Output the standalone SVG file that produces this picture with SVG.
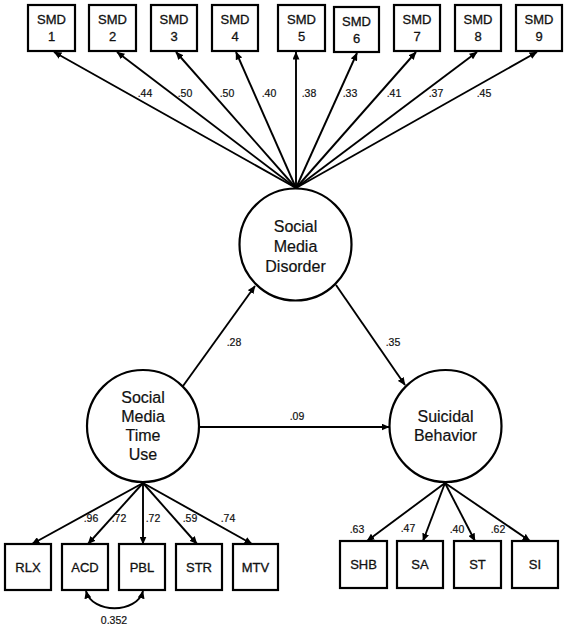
<svg xmlns="http://www.w3.org/2000/svg" width="567" height="628" viewBox="0 0 567 628">
<defs>
<marker id="ah" markerUnits="userSpaceOnUse" markerWidth="8" markerHeight="7" refX="7.5" refY="3.5" orient="auto-start-reverse">
<path d="M0,0 L8,3.5 L0,7 z" fill="#000"/>
</marker>
</defs>
<style>
.box{fill:#fff;stroke:#000;stroke-width:2.2}
.lat{fill:#fff;stroke:#000;stroke-width:2.2}
.t{font-family:"Liberation Sans",Arial,sans-serif;font-size:13px;fill:#111;stroke:#111;stroke-width:0.3;text-anchor:middle}
.lt{font-family:"Liberation Sans",Arial,sans-serif;font-size:16px;fill:#111;stroke:#111;stroke-width:0.2;text-anchor:middle}
.n{font-family:"Liberation Sans",Arial,sans-serif;font-size:10.5px;fill:#111;stroke:#111;stroke-width:0.2;text-anchor:middle}
.c{fill:none;stroke:#000;stroke-width:1.9;marker-end:url(#ah)}
</style>
<rect width="567" height="628" fill="#fff"/>
<g id="connectors">
<line class="c" x1="296" y1="188" x2="54" y2="52"/>
<line class="c" x1="296" y1="188" x2="117" y2="52"/>
<line class="c" x1="296" y1="188" x2="176" y2="52"/>
<line class="c" x1="296" y1="188" x2="236" y2="52"/>
<line class="c" x1="296" y1="188" x2="296" y2="52"/>
<line class="c" x1="296" y1="188" x2="357" y2="53"/>
<line class="c" x1="296" y1="188" x2="416" y2="52"/>
<line class="c" x1="296" y1="188" x2="477" y2="52"/>
<line class="c" x1="296" y1="188" x2="537" y2="52"/>
<line class="c" x1="183" y1="386" x2="255" y2="286"/>
<line class="c" x1="336" y1="285" x2="405" y2="385"/>
<line class="c" x1="199" y1="427" x2="389" y2="427"/>
<line class="c" x1="143" y1="483" x2="32" y2="544"/>
<line class="c" x1="143" y1="483" x2="88" y2="544"/>
<line class="c" x1="143" y1="483" x2="143" y2="544"/>
<line class="c" x1="143" y1="483" x2="197" y2="544"/>
<line class="c" x1="143" y1="483" x2="252" y2="544"/>
<line class="c" x1="445" y1="483" x2="367" y2="541"/>
<line class="c" x1="445" y1="483" x2="423" y2="541"/>
<line class="c" x1="445" y1="483" x2="475" y2="541"/>
<line class="c" x1="445" y1="483" x2="530" y2="541"/>
<path d="M86,591 C92,614 137,614 143,591" fill="none" stroke="#000" stroke-width="1.9" marker-start="url(#ah)" marker-end="url(#ah)"/>
<text class="n" x="145" y="97">.44</text>
<text class="n" x="185" y="97">.50</text>
<text class="n" x="227" y="97">.50</text>
<text class="n" x="269" y="97">.40</text>
<text class="n" x="309" y="97">.38</text>
<text class="n" x="350" y="97">.33</text>
<text class="n" x="394" y="97">.41</text>
<text class="n" x="436" y="97">.37</text>
<text class="n" x="484" y="97">.45</text>
<text class="n" x="234" y="346">.28</text>
<text class="n" x="393" y="346">.35</text>
<text class="n" x="297" y="420">.09</text>
<text class="n" x="91" y="522">.96</text>
<text class="n" x="119" y="522">.72</text>
<text class="n" x="153" y="522">.72</text>
<text class="n" x="190" y="522">.59</text>
<text class="n" x="228" y="522">.74</text>
<text class="n" x="114" y="624">0.352</text>
<text class="n" x="357" y="533">.63</text>
<text class="n" x="408" y="532">.47</text>
<text class="n" x="457" y="533">.40</text>
<text class="n" x="498" y="533">.62</text>
</g>
<g id="smd1"><rect class="box" x="28" y="5" width="47" height="46"/><text class="t" x="51.5" y="24">SMD</text><text class="t" x="51.5" y="41">1</text></g>
<g id="smd2"><rect class="box" x="89" y="5" width="47" height="46"/><text class="t" x="112.5" y="24">SMD</text><text class="t" x="112.5" y="41">2</text></g>
<g id="smd3"><rect class="box" x="151" y="5" width="46" height="46"/><text class="t" x="174" y="24">SMD</text><text class="t" x="174" y="41">3</text></g>
<g id="smd4"><rect class="box" x="212" y="5" width="46" height="46"/><text class="t" x="235" y="24">SMD</text><text class="t" x="235" y="41">4</text></g>
<g id="smd5"><rect class="box" x="278" y="5" width="47" height="46"/><text class="t" x="301.5" y="24">SMD</text><text class="t" x="301.5" y="41">5</text></g>
<g id="smd6"><rect class="box" x="334" y="7" width="45" height="45"/><text class="t" x="356.5" y="26">SMD</text><text class="t" x="356.5" y="43">6</text></g>
<g id="smd7"><rect class="box" x="394" y="5" width="46" height="46"/><text class="t" x="417" y="24">SMD</text><text class="t" x="417" y="41">7</text></g>
<g id="smd8"><rect class="box" x="455" y="5" width="46" height="46"/><text class="t" x="478" y="24">SMD</text><text class="t" x="478" y="41">8</text></g>
<g id="smd9"><rect class="box" x="516" y="5" width="46" height="46"/><text class="t" x="539" y="24">SMD</text><text class="t" x="539" y="41">9</text></g>
<g id="disorder"><circle class="lat" cx="295.5" cy="244.5" r="56"/><text class="lt" x="295.5" y="232">Social</text><text class="lt" x="295.5" y="252">Media</text><text class="lt" x="295.5" y="272">Disorder</text></g>
<g id="timeuse"><circle class="lat" cx="143" cy="426" r="56"/><text class="lt" x="143" y="403">Social</text><text class="lt" x="143" y="422">Media</text><text class="lt" x="143" y="441">Time</text><text class="lt" x="143" y="460">Use</text></g>
<g id="suicidal"><circle class="lat" cx="445.5" cy="426" r="56"/><text class="lt" x="445.5" y="422">Suicidal</text><text class="lt" x="445.5" y="441">Behavior</text></g>
<g id="rlx"><rect class="box" x="5" y="544" width="46" height="46"/><text class="t" x="28" y="571.5">RLX</text></g>
<g id="acd"><rect class="box" x="62" y="544" width="46" height="46"/><text class="t" x="85" y="571.5">ACD</text></g>
<g id="pbl"><rect class="box" x="119" y="544" width="46" height="46"/><text class="t" x="142" y="571.5">PBL</text></g>
<g id="str"><rect class="box" x="176" y="544" width="46" height="46"/><text class="t" x="199" y="571.5">STR</text></g>
<g id="mtv"><rect class="box" x="233" y="544" width="45" height="46"/><text class="t" x="255.5" y="571.5">MTV</text></g>
<g id="shb"><rect class="box" x="340" y="541" width="47" height="47"/><text class="t" x="363.5" y="569">SHB</text></g>
<g id="sa"><rect class="box" x="397" y="541" width="46" height="47"/><text class="t" x="420" y="569">SA</text></g>
<g id="st"><rect class="box" x="454" y="541" width="47" height="47"/><text class="t" x="477.5" y="569">ST</text></g>
<g id="si"><rect class="box" x="512" y="541" width="46" height="47"/><text class="t" x="535" y="569">SI</text></g>
</svg>
